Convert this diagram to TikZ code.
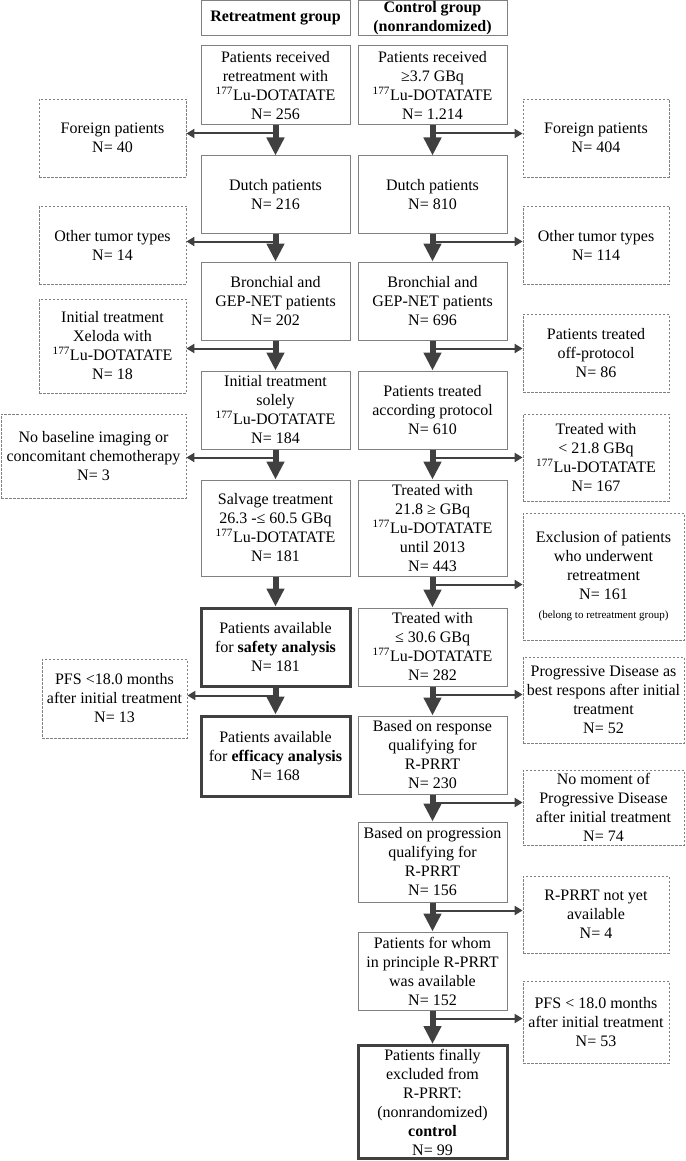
\documentclass[tikz,border=0pt]{standalone}
\usepackage{fontspec}
\setmainfont{Liberation Serif}
\usetikzlibrary{arrows.meta,calc}
\definecolor{arr}{HTML}{404040}
\definecolor{bd}{HTML}{808080}
\newcommand{\lu}{\textsuperscript{177}Lu-DOTATATE}
\begin{document}
\begin{tikzpicture}[x=1pt,y=-1pt,
  box/.style={draw=bd, line width=1pt, inner sep=0pt, align=center,
    font=\fontsize{16}{19}\selectfont, minimum width=149pt},
  thickbox/.style={box, draw=arr, line width=3pt},
  dbox/.style={draw=bd, line width=0.8pt, dash pattern=on 2.5pt off 1.5pt,
    inner sep=0pt, align=center, font=\fontsize{16}{19}\selectfont},
  bigarrow/.style={draw=arr, line width=6pt, -{Triangle[width=17pt,length=18pt]}},
  branch/.style={draw=arr, line width=2pt, -{Triangle[width=9pt,length=8pt]}}
]
\useasboundingbox (0,0) rectangle (685,1161);

% headers
\node[box, minimum height=35.5pt] (HL) at (275.5,18.25) {\textbf{Retreatment group}};
\node[box, minimum height=35.5pt] (HR) at (432.5,18.25) {\textbf{Control group}\\\textbf{(nonrandomized)}};

% left column
\node[box, minimum height=79pt] (L1) at (275.5,85.5) {Patients received\\retreatment with\\\lu\\N= 256};
\node[box, minimum height=77pt] (L2) at (275.5,194.5) {Dutch patients\\N= 216};
\node[box, minimum height=78pt] (L3) at (275.5,301) {Bronchial and\\GEP-NET patients\\N= 202};
\node[box, minimum height=78pt] (L4) at (275.5,410) {Initial treatment\\solely\\\lu\\N= 184};
\node[box, minimum height=96pt] (L5) at (275.5,528) {Salvage treatment\\26.3 -≤ 60.5 GBq\\\lu\\N= 181};
\node[thickbox, minimum height=78pt] (L6) at (275.5,647) {Patients available\\for \textbf{safety analysis}\\N= 181};
\node[thickbox, minimum height=80pt] (L7) at (275.5,756) {Patients available\\for \textbf{efficacy analysis}\\N= 168};

% right column
\node[box, minimum height=79pt] (R1) at (432.5,85.5) {Patients received\\≥3.7 GBq\\\lu\\N= 1.214};
\node[box, minimum height=77pt] (R2) at (432.5,194.5) {Dutch patients\\N= 810};
\node[box, minimum height=78pt] (R3) at (432.5,301) {Bronchial and\\GEP-NET patients\\N= 696};
\node[box, minimum height=78pt] (R4) at (432.5,410) {Patients treated\\according protocol\\N= 610};
\node[box, minimum height=96pt] (R5) at (432.5,528) {Treated with\\21.8 ≥ GBq\\\lu\\until 2013\\N= 443};
\node[box, minimum height=78pt] (R6) at (432.5,647) {Treated with\\≤ 30.6 GBq\\\lu\\N= 282};
\node[box, minimum height=78pt] (R7) at (432.5,755) {Based on response\\qualifying for\\R-PRRT\\N= 230};
\node[box, minimum height=80pt] (R8) at (432.5,862) {Based on progression\\qualifying for\\R-PRRT\\N= 156};
\node[box, minimum height=78pt] (R9) at (432.5,971) {Patients for whom\\in principle R-PRRT\\was available\\N= 152};
\node[thickbox, minimum height=113pt] (R10) at (432.5,1102) {Patients finally\\excluded from\\R-PRRT:\\(nonrandomized)\\\textbf{control}\\N= 99};

% left dashed boxes
\node[dbox, minimum width=147pt, minimum height=78pt] (FL) at (112.5,138) {Foreign patients\\N= 40};
\node[dbox, minimum width=147pt, minimum height=78pt] (OL) at (112.5,245) {Other tumor types\\N= 14};
\node[dbox, minimum width=147pt, minimum height=94pt] (XL) at (112.5,346) {Initial treatment\\Xeloda with\\\lu\\N= 18};
\node[dbox, minimum width=185pt, minimum height=84pt] (NL) at (93.5,456) {No baseline imaging or\\concomitant chemotherapy\\N= 3};
\node[dbox, minimum width=145pt, minimum height=79pt] (PL) at (114.5,698.5) {PFS <18.0 months\\after initial treatment\\N= 13};

% right dashed boxes
\node[dbox, minimum width=146pt, minimum height=78pt] (FR) at (596,138) {Foreign patients\\N= 404};
\node[dbox, minimum width=146pt, minimum height=78pt] (OR) at (596,245) {Other tumor types\\N= 114};
\node[dbox, minimum width=146pt, minimum height=78pt] (OffR) at (596,353) {Patients treated\\off-protocol\\N= 86};
\node[dbox, minimum width=146pt, minimum height=87pt] (TR) at (596,457.5) {Treated with\\< 21.8 GBq\\\lu\\N= 167};
\node[dbox, minimum width=161pt, minimum height=127pt] (ER) at (603.5,576.5) {Exclusion of patients\\who underwent\\retreatment\\N= 161\\{\fontsize{11}{15}\selectfont (belong to retreatment group)}};
\node[dbox, minimum width=161pt, minimum height=86pt] (PR) at (603.5,700) {Progressive Disease as\\best respons after initial\\treatment\\N= 52};
\node[dbox, minimum width=161pt, minimum height=75pt] (NR) at (603.5,807.5) {No moment of\\Progressive Disease\\after initial treatment\\N= 74};
\node[dbox, minimum width=146pt, minimum height=77pt] (RR) at (596,914.5) {R-PRRT not yet\\available\\N= 4};
\node[dbox, minimum width=146pt, minimum height=82pt] (SR) at (596,1022) {PFS < 18.0 months\\after initial treatment\\N= 53};

% branch points
\foreach \s in {L1,L2,L3,L4,L6,R1,R2,R3,R4,R5,R6,R7,R8,R9}
  \coordinate (b\s) at ($(\s.south)+(0,8)$);

% branches (left)
\draw[branch] (bL1) -- (bL1 -| FL.east);
\draw[branch] (bL2) -- (bL2 -| OL.east);
\draw[branch] (bL3) -- (bL3 -| XL.east);
\draw[branch] (bL4) -- (bL4 -| NL.east);
\draw[branch] (bL6) -- (bL6 -| PL.east);
% branches (right)
\draw[branch] (bR1) -- (bR1 -| FR.west);
\draw[branch] (bR2) -- (bR2 -| OR.west);
\draw[branch] (bR3) -- (bR3 -| OffR.west);
\draw[branch] (bR4) -- (bR4 -| TR.west);
\draw[branch] (bR5) -- (bR5 -| ER.west);
\draw[branch] (bR6) -- (bR6 -| PR.west);
\draw[branch] (bR7) -- (bR7 -| NR.west);
\draw[branch] (bR8) -- (bR8 -| RR.west);
\draw[branch] (bR9) -- (bR9 -| SR.west);

% main arrows
\draw[bigarrow] (L1) -- (L2);
\draw[bigarrow] (L2) -- (L3);
\draw[bigarrow] (L3) -- (L4);
\draw[bigarrow] (L4) -- (L5);
\draw[bigarrow] (L5) -- (L6);
\draw[bigarrow] (L6) -- (L7);
\draw[bigarrow] (R1) -- (R2);
\draw[bigarrow] (R2) -- (R3);
\draw[bigarrow] (R3) -- (R4);
\draw[bigarrow] (R4) -- (R5);
\draw[bigarrow] (R5) -- (R6);
\draw[bigarrow] (R6) -- (R7);
\draw[bigarrow] (R7) -- (R8);
\draw[bigarrow] (R8) -- (R9);
\draw[bigarrow] (R9) -- (R10);
\end{tikzpicture}
\end{document}
